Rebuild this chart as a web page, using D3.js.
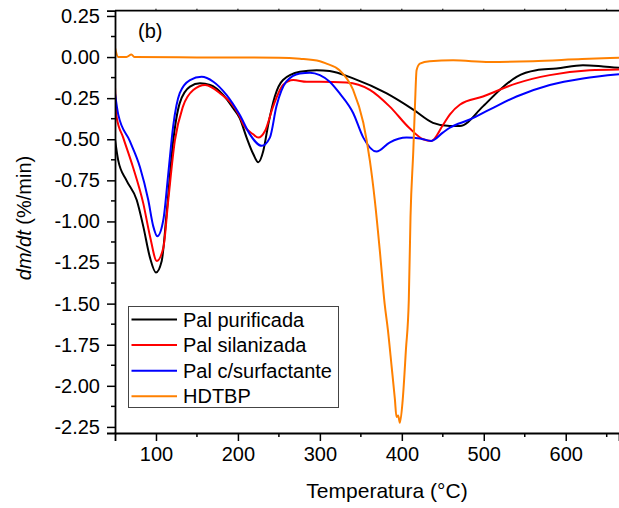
<!DOCTYPE html>
<html>
<head>
  <meta charset="utf-8">
  <title>DTG</title>
  <script src="https://d3js.org/d3.v7.min.js"></script>
  <style type="text/css">
    body {
      margin: 0;
      background-color: #ffffff;
      font-family: 'Liberation Sans', Arial, sans-serif;
    }
    .tick text { font-size: 20px; font-family: 'Liberation Sans', Arial, sans-serif; }
  </style>
</head>
<body>
<div id="chart"></div>
<script>
  // temperature (°C) and dm/dt (%/min)
  var tempPur = [50, 54, 64, 76.5, 84.5, 92.7, 100, 107, 113, 121, 129, 141.5, 153.7, 166, 182, 194, 202, 210.6, 218.7, 224.8, 231, 237, 245, 255, 275.6, 296, 312, 340.6, 381, 414, 438, 458.5, 470.7, 499, 519.5, 540, 564, 588.7, 621, 645.5, 665];
  var dmdtPur = [-0.50, -0.63, -0.75, -0.87, -1.03, -1.22, -1.31, -1.24, -0.95, -0.51, -0.28, -0.18, -0.16, -0.17, -0.23, -0.31, -0.37, -0.49, -0.59, -0.64, -0.57, -0.41, -0.24, -0.14, -0.09, -0.08, -0.085, -0.13, -0.22, -0.32, -0.40, -0.42, -0.42, -0.30, -0.20, -0.12, -0.08, -0.07, -0.05, -0.057, -0.065];

  var tempSil = [50, 52, 60, 72, 84.5, 92.7, 101, 109, 115, 123, 133, 145.5, 160, 178, 202, 206.5, 218.7, 224.8, 233, 243, 255, 267.5, 284, 300, 332.5, 361, 385, 409.8, 426, 436, 450, 458.5, 470.7, 499, 540, 580.5, 629, 665];
  var dmdtSil = [-0.18, -0.365, -0.49, -0.67, -0.89, -1.09, -1.24, -1.16, -0.87, -0.51, -0.30, -0.20, -0.17, -0.22, -0.36, -0.41, -0.47, -0.49, -0.45, -0.30, -0.17, -0.14, -0.15, -0.15, -0.155, -0.20, -0.30, -0.435, -0.50, -0.51, -0.415, -0.35, -0.29, -0.24, -0.16, -0.11, -0.08, -0.075];

  var tempSurf = [50, 54, 68, 80.5, 90.6, 96.7, 101.6, 109, 115, 121, 129, 141.5, 155.7, 170, 186, 202, 214.6, 229, 239, 247, 259, 275.6, 288, 300, 312, 324, 340.6, 353, 369, 385, 405.7, 422, 436, 450, 458.5, 483, 507, 540, 580.5, 621, 665];
  var dmdtSurf = [-0.22, -0.35, -0.51, -0.67, -0.87, -1.03, -1.09, -0.99, -0.71, -0.42, -0.22, -0.14, -0.12, -0.15, -0.23, -0.35, -0.47, -0.54, -0.49, -0.30, -0.15, -0.10, -0.095, -0.11, -0.15, -0.22, -0.34, -0.49, -0.575, -0.52, -0.49, -0.495, -0.51, -0.46, -0.43, -0.38, -0.32, -0.24, -0.17, -0.13, -0.105];

  var tempHdt = [50, 54, 64, 70, 74, 150, 250, 275.6, 300, 308, 324, 340.6, 353, 361, 367, 373, 379, 383, 387.5, 391.5, 393.5, 395.5, 397.6, 401, 405, 408.5, 410.6, 414, 416, 418, 422, 434, 462.6, 507, 560, 620, 665];
  var dmdtHdt = [0.057, 0.0, 0.0, 0.015, 0.0, -0.002, -0.004, -0.01, -0.025, -0.04, -0.08, -0.20, -0.40, -0.63, -0.87, -1.17, -1.50, -1.66, -1.88, -2.08, -2.19, -2.18, -2.225, -2.09, -1.78, -1.48, -0.97, -0.57, -0.30, -0.08, -0.04, -0.025, -0.02, -0.03, -0.025, -0.012, -0.004];

  var seriesNames = ["Pal purificada", "Pal silanizada", "Pal c/surfactante", "HDTBP"];
  var seriesColors = ["#000000", "#ff0000", "#0000ff", "#ff8000"];
  var xTicks = [100, 200, 300, 400, 500, 600];
  var yTicks = [0.25, 0, -0.25, -0.5, -0.75, -1, -1.25, -1.5, -1.75, -2, -2.25];

  var W = 619, H = 508;
  var plotL = 115, plotR = 619, plotT = 10.7, plotB = 433;

  var svg = d3.select("#chart").append("svg").attr("width", W).attr("height", H);

  var x = d3.scaleLinear().domain([50, 665]).range([plotL, plotR]);
  var y = d3.scaleLinear().domain([-2.287, 0.282]).range([plotB, plotT]);

  svg.append("clipPath").attr("id", "plotclip")
    .append("rect").attr("x", plotL).attr("y", plotT).attr("width", plotR - plotL).attr("height", plotB - plotT);

  var line = d3.line()
    .x(function (d) { return x(d[0]); })
    .y(function (d) { return y(d[1]); })
    .curve(d3.curveMonotoneX);

  var allT = [tempPur, tempSil, tempSurf, tempHdt];
  var allV = [dmdtPur, dmdtSil, dmdtSurf, dmdtHdt];
  var g = svg.append("g").attr("clip-path", "url(#plotclip)");
  for (var s = 0; s < 4; s++) {
    var pts = allT[s].map(function (t, i) { return [t, allV[s][i]]; });
    g.append("path").datum(pts).attr("d", line)
      .attr("fill", "none").attr("stroke", seriesColors[s])
      .attr("stroke-width", 2).attr("stroke-linejoin", "round");
  }

  // axes
  var xAxis = d3.axisBottom(x).tickValues(xTicks).tickFormat(d3.format("d")).tickSize(8).tickPadding(6);
  var gx = svg.append("g").attr("transform", "translate(0," + plotB + ")").call(xAxis);
  var yAxis = d3.axisLeft(y).tickValues(yTicks).tickSize(8).tickPadding(7)
    .tickFormat(function (d) { return d3.format(".2f")(d).replace("\u2212", "-"); });
  var gy = svg.append("g").attr("transform", "translate(" + plotL + ",0)").call(yAxis);
  [gx, gy].forEach(function (a) {
    a.select(".domain").attr("stroke-width", 1.8);
    a.selectAll(".tick line").attr("stroke-width", 1.5);
    a.selectAll(".tick text").attr("fill", "#000");
  });

  // minor ticks
  var xMinor = [150, 250, 350, 450, 550, 650];
  svg.append("g").selectAll("line").data(xMinor).enter().append("line")
    .attr("x1", x).attr("x2", x).attr("y1", plotB).attr("y2", plotB + 4)
    .attr("stroke", "#000").attr("stroke-width", 1.5);
  var yMinor = d3.range(0, 10).map(function (i) { return 0.125 - i * 0.25; });
  svg.append("g").selectAll("line").data(yMinor).enter().append("line")
    .attr("x1", plotL - 4).attr("x2", plotL).attr("y1", y).attr("y2", y)
    .attr("stroke", "#000").attr("stroke-width", 1.5);

  // top frame with small ticks
  svg.append("line").attr("x1", plotL).attr("x2", W).attr("y1", plotT).attr("y2", plotT)
    .attr("stroke", "#000").attr("stroke-width", 1.8);
  svg.append("g").selectAll("line").data(xTicks.concat(xMinor)).enter().append("line")
    .attr("x1", x).attr("x2", x).attr("y1", plotT).attr("y2", plotT - 2)
    .attr("stroke", "#000").attr("stroke-width", 1);

  // labels
  svg.append("text").attr("x", 138).attr("y", 38).attr("font-size", 20).text("(b)");
  svg.append("text").attr("x", 387).attr("y", 498).attr("text-anchor", "middle")
    .attr("font-size", 21).text("Temperatura (°C)");
  var yt = svg.append("text").attr("transform", "translate(31,218) rotate(-90)")
    .attr("text-anchor", "middle").attr("font-size", 20);
  yt.append("tspan").attr("font-style", "italic").text("dm/dt");
  yt.append("tspan").text(" (%/min)");

  // legend
  var lg = svg.append("g");
  lg.append("rect").attr("x", 128.5).attr("y", 306.5).attr("width", 210).attr("height", 101)
    .attr("fill", "#fff").attr("stroke", "#444").attr("stroke-width", 1);
  seriesNames.forEach(function (n, i) {
    var yy = 319.5 + i * 25.6;
    lg.append("line").attr("x1", 131.5).attr("x2", 177).attr("y1", yy).attr("y2", yy)
      .attr("stroke", seriesColors[i]).attr("stroke-width", 2);
    lg.append("text").attr("x", 183).attr("y", yy + 7).attr("font-size", 20).text(n);
  });
</script>
</body>
</html>
